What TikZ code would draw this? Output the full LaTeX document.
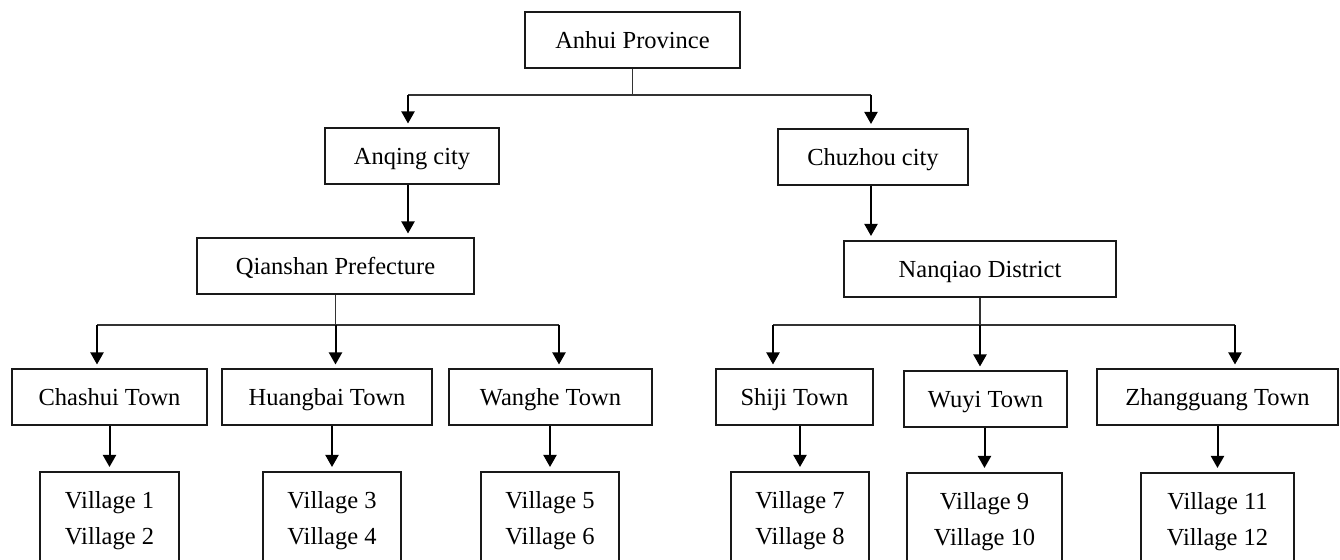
\documentclass[tikz,border=0pt]{standalone}
\usepackage{fontspec}
\setmainfont{Liberation Serif}
\usetikzlibrary{arrows.meta}

\begin{document}
\begin{tikzpicture}[x=0.5pt, y=-0.5pt,
    box/.style={draw=black!90, line width=1pt, inner sep=0pt, minimum height=28pt, text height=8.5pt, text depth=0pt, font=\fontsize{12.25}{18}\selectfont},
    vbox/.style={draw=black!90, line width=1pt, anchor=north, align=center, inner xsep=0pt, inner ysep=10pt, font=\fontsize{12.25}{18}\selectfont},
    line/.style={draw=black!80, line width=0.6pt},
    arr/.style={-{Triangle[length=6pt,width=6.5pt]}, line width=1pt, shorten >=2pt}
]
\useasboundingbox (0,0) rectangle (1340,560);

\node[box, minimum width=107.5pt] (prov) at (632.5,40) {Anhui Province};
\node[box, minimum width=87pt] (anq) at (412,156.5) {Anqing city};
\node[box, minimum width=95pt] (chu) at (873,157) {Chuzhou city};
\node[box, minimum width=138.5pt] (qian) at (335.5,266.5) {Qianshan Prefecture};
\node[box, minimum width=136pt] (nan) at (980,269) {Nanqiao District};

\node[box, minimum width=97.5pt] (chas) at (109.5,397.5) {Chashui Town};
\node[box, minimum width=105pt] (huang) at (327,397.5) {Huangbai Town};
\node[box, minimum width=101.5pt] (wang) at (550.5,397.5) {Wanghe Town};
\node[box, minimum width=78.5pt] (shij) at (794.5,397.5) {Shiji Town};
\node[box, minimum width=81.5pt] (wuyi) at (985.5,399.5) {Wuyi Town};
\node[box, minimum width=120.5pt] (zhang) at (1217.5,397.5) {Zhangguang Town};

\node[vbox, minimum width=69.5pt] (v1) at (109.5,471) {Village 1\\Village 2};
\node[vbox, minimum width=69pt] (v3) at (332,471) {Village 3\\Village 4};
\node[vbox, minimum width=69pt] (v5) at (550,471) {Village 5\\Village 6};
\node[vbox, minimum width=69pt] (v7) at (800,471) {Village 7\\Village 8};
\node[vbox, minimum width=77.5pt] (v9) at (984.5,472) {Village 9\\Village 10};
\node[vbox, minimum width=76.5pt] (v11) at (1217.5,472) {Village 11\\Village 12};

\coordinate (pa) at (408,95);
\coordinate (pb) at (871,95);
\draw[line] (prov.south) -- (prov.south |- pa);
\draw[line] (pa) -- (pb);
\draw[arr] (pa) -- (pa |- anq.north);
\draw[arr] (pb) -- (pb |- chu.north);
\draw[arr] (pa |- anq.south) -- (pa |- qian.north);
\draw[arr] (pb |- chu.south) -- (pb |- nan.north);

\coordinate (qa) at (97,325);
\coordinate (qc) at (559,325);
\draw[line] (qian.south) -- (qian.south |- qa);
\draw[line] (qa) -- (qc);
\draw[arr] (qa) -- (qa |- chas.north);
\draw[arr] (qian.south |- qa) -- (qian.south |- huang.north);
\draw[arr] (qc) -- (qc |- wang.north);

\coordinate (na) at (773,325);
\coordinate (nc) at (1235,325);
\draw[line] (nan.south) -- (nan.south |- na);
\draw[line] (na) -- (nc);
\draw[arr] (na) -- (na |- shij.north);
\draw[arr] (nan.south |- na) -- (nan.south |- wuyi.north);
\draw[arr] (nc) -- (nc |- zhang.north);

\foreach \t/\v in {chas/v1, huang/v3, wang/v5, shij/v7, wuyi/v9, zhang/v11}
    \draw[arr] (\v.north |- \t.south) -- (\v.north);
\end{tikzpicture}
\end{document}
